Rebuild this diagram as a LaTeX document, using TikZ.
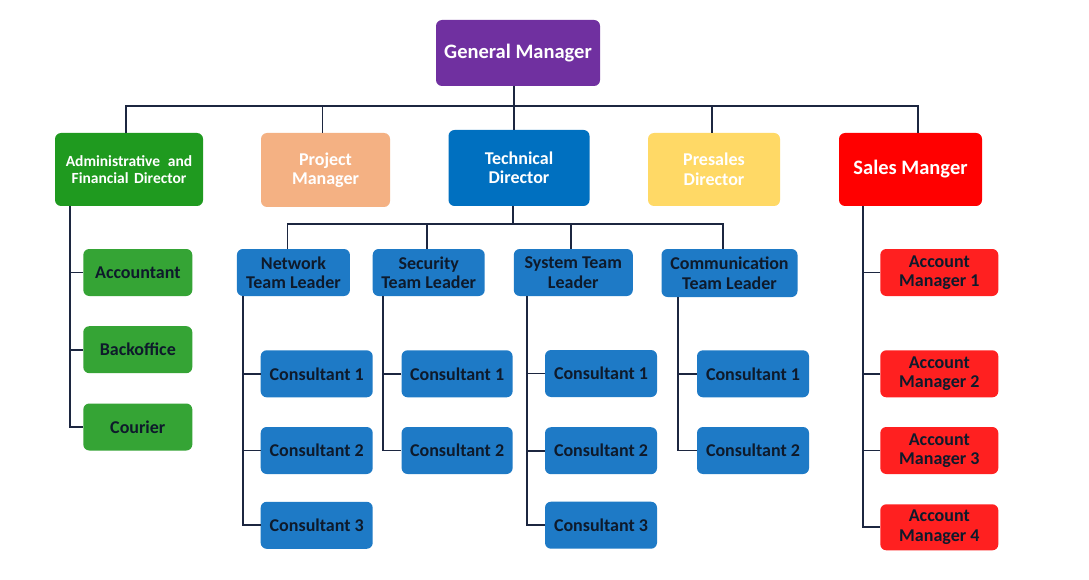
\documentclass[tikz,border=0pt]{standalone}
\usepackage{fontspec}
\setmainfont{Carlito}
\definecolor{gmpurple}{HTML}{7030A0}
\definecolor{admgreen}{HTML}{1F9A1F}
\definecolor{kidgreen}{HTML}{35A435}
\definecolor{peach}{HTML}{F4B183}
\definecolor{tdblue}{HTML}{0070C0}
\definecolor{presyellow}{HTML}{FFD966}
\definecolor{salesred}{HTML}{FF0000}
\definecolor{teamblue}{HTML}{1E7AC6}
\definecolor{amred}{HTML}{FF2020}
\definecolor{linecol}{HTML}{1C2640}
\definecolor{darktext}{HTML}{0E1A2B}
\tikzset{
  box/.style={rectangle, rounded corners=6pt, inner sep=0pt, align=center,
    font=\bfseries\fontsize{18}{19.5}\selectfont, text=darktext},
  topbox/.style={box, text=white},
  conn/.style={draw=linecol, line width=1.8pt}
}
\begin{document}
\begin{tikzpicture}[x=1pt,y=-1pt]
\fill[white] (0,0) rectangle (1089,580);
\useasboundingbox (0,0) rectangle (1089,580);
\coordinate (bus) at (0,106);
\coordinate (tbus) at (0,224);
% top
\node[topbox, fill=gmpurple, minimum width=164, minimum height=66, font=\bfseries\fontsize{20.5}{22}\selectfont] (gm) at (518,53) {General Manager};
% level 1
\node[topbox, fill=admgreen, minimum width=148, minimum height=73, font=\bfseries\fontsize{15.5}{17.7}\selectfont] (admin) at (129,169.5) {Administrative\hspace{0.5em}and\\Financial\hspace{0.35em}Director};
\node[topbox, fill=peach, minimum width=129, minimum height=74] (pm) at (325.5,170) {Project\\Manager};
\node[topbox, fill=tdblue, minimum width=141, minimum height=76] (td) at (519,168) {Technical\\Director};
\node[topbox, fill=presyellow, minimum width=132, minimum height=73] (pre) at (714,169.5) {Presales\\Director};
\node[topbox, fill=salesred, minimum width=143, minimum height=73, font=\bfseries\fontsize{20.5}{22}\selectfont] (sales) at (910.5,169.5) {Sales Manger};
% team leaders
\node[box, fill=teamblue, minimum width=113, minimum height=47] (net) at (293.4,272.5) {Network\\Team Leader};
\node[box, fill=teamblue, minimum width=112, minimum height=47] (sec) at (428.7,272.5) {Security\\Team Leader};
\node[box, fill=teamblue, minimum width=119, minimum height=47] (sys) at (573.3,272.5) {System Team\\Leader};
\node[box, fill=teamblue, minimum width=136, minimum height=48] (com) at (729.5,273) {Communication\\Team Leader};
% admin children
\node[box, fill=kidgreen, minimum width=109, minimum height=47] (acc) at (137.8,272.5) {Accountant};
\node[box, fill=kidgreen, minimum width=109, minimum height=47] (back) at (137.8,349.7) {Backoffice};
\node[box, fill=kidgreen, minimum width=109, minimum height=47] (cour) at (137.8,427) {Courier};
% network consultants
\node[box, fill=teamblue, minimum width=112, minimum height=47] (n1) at (316.7,373.8) {Consultant 1};
\node[box, fill=teamblue, minimum width=112, minimum height=47] (n2) at (316.7,450.5) {Consultant 2};
\node[box, fill=teamblue, minimum width=112, minimum height=47] (n3) at (316.7,525.3) {Consultant 3};
% security consultants
\node[box, fill=teamblue, minimum width=111, minimum height=47] (s1) at (457.1,373.8) {Consultant 1};
\node[box, fill=teamblue, minimum width=111, minimum height=47] (s2) at (457.1,450.5) {Consultant 2};
% system consultants
\node[box, fill=teamblue, minimum width=112, minimum height=47] (y1) at (601,373.5) {Consultant 1};
\node[box, fill=teamblue, minimum width=112, minimum height=47] (y2) at (601,450.7) {Consultant 2};
\node[box, fill=teamblue, minimum width=112, minimum height=47] (y3) at (601,525.2) {Consultant 3};
% communication consultants
\node[box, fill=teamblue, minimum width=112, minimum height=47] (c1) at (753,373.8) {Consultant 1};
\node[box, fill=teamblue, minimum width=112, minimum height=47] (c2) at (753,450.5) {Consultant 2};
% account managers
\node[box, fill=amred, minimum width=118, minimum height=47] (am1) at (939.3,272.5) {Account\\Manager 1};
\node[box, fill=amred, minimum width=118, minimum height=47] (am2) at (939.3,373.8) {Account\\Manager 2};
\node[box, fill=amred, minimum width=118, minimum height=47] (am3) at (939.3,450.5) {Account\\Manager 3};
\node[box, fill=amred, minimum width=118, minimum height=46] (am4) at (939.3,527.3) {Account\\Manager 4};
% connectors: top level
\draw[conn] ([xshift=-4]gm.south) -- ([xshift=-5]td.north);
\draw[conn] ([xshift=-3]admin.north) |- ([xshift=7.5]sales.north |- bus) -- ([xshift=7.5]sales.north);
\draw[conn] ([xshift=-3]pm.north) -- ([xshift=-3]pm.north |- bus);
\draw[conn] ([xshift=-2]pre.north) -- ([xshift=-2]pre.north |- bus);
% technical director bus
\draw[conn] ([xshift=-6]td.south) -- ([xshift=-6]td.south |- tbus);
\draw[conn] ([xshift=-6]net.north) |- ([xshift=-6.5]com.north |- tbus) -- ([xshift=-6.5]com.north);
\draw[conn] ([xshift=-2]sec.north) -- ([xshift=-2]sec.north |- tbus);
\draw[conn] ([xshift=-2]sys.north) -- ([xshift=-2]sys.north |- tbus);
% admin children
\coordinate (av) at ([xshift=15]admin.south west);
\draw[conn] (av) |- (cour.west);
\draw[conn] (acc.west) -- (acc.west -| av);
\draw[conn] (back.west) -- (back.west -| av);
% network
\coordinate (nv) at ([xshift=6.6]net.south west);
\draw[conn] (nv) |- (n3.west);
\draw[conn] (n1.west) -- (n1.west -| nv);
\draw[conn] (n2.west) -- (n2.west -| nv);
% security
\coordinate (sv) at ([xshift=10.4]sec.south west);
\draw[conn] (sv) |- (s2.west);
\draw[conn] (s1.west) -- (s1.west -| sv);
% system
\coordinate (yv) at ([xshift=13.6]sys.south west);
\draw[conn] (yv) |- (y3.west);
\draw[conn] (y1.west) -- (y1.west -| yv);
\draw[conn] (y2.west) -- (y2.west -| yv);
% communication
\coordinate (cv) at ([xshift=17]com.south west);
\draw[conn] (cv) |- (c2.west);
\draw[conn] (c1.west) -- (c1.west -| cv);
% sales
\coordinate (mv) at ([xshift=24]sales.south west);
\draw[conn] (mv) |- (am4.west);
\draw[conn] (am1.west) -- (am1.west -| mv);
\draw[conn] (am2.west) -- (am2.west -| mv);
\draw[conn] (am3.west) -- (am3.west -| mv);
\end{tikzpicture}
\end{document}
